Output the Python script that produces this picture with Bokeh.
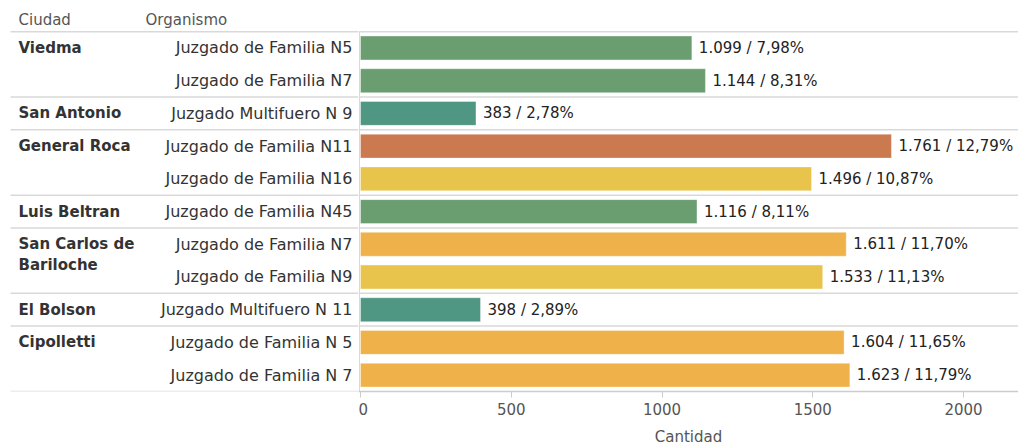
from bokeh.plotting import figure
from bokeh.layouts import row
from bokeh.models import Range1d, FixedTicker, ColumnDataSource
from bokeh.core.properties import value
from bokeh.embed import file_html
from bokeh.resources import INLINE

# ---- data ----
ciudad = ["Viedma", "Viedma", "San Antonio", "General Roca", "General Roca",
          "Luis Beltran", "San Carlos de\nBariloche", "San Carlos de\nBariloche",
          "El Bolson", "Cipolletti", "Cipolletti"]
organismo = ["Juzgado de Familia N5", "Juzgado de Familia N7", "Juzgado Multifuero N 9",
             "Juzgado de Familia N11", "Juzgado de Familia N16", "Juzgado de Familia N45",
             "Juzgado de Familia N7", "Juzgado de Familia N9", "Juzgado Multifuero N 11",
             "Juzgado de Familia N 5", "Juzgado de Familia N 7"]
cantidad = [1099, 1144, 383, 1761, 1496, 1116, 1611, 1533, 398, 1604, 1623]
porcentaje = [7.98, 8.31, 2.78, 12.79, 10.87, 8.11, 11.70, 11.13, 2.89, 11.65, 11.79]
colores = ["#6a9d6f", "#6a9d6f", "#4f9782", "#cb7a4f", "#e8c44c", "#6a9d6f",
           "#efb24b", "#e8c44c", "#4f9782", "#efb24b", "#efb24b"]
ticks = [0, 500, 1000, 1500, 2000]

FONT = "DejaVu Sans"
GRID = "#d9d9d9"
ROW_PX = 32.8
n = len(cantidad)
y_center = [i + 0.5 for i in range(n)]
header_rows = 23.2 / ROW_PX
yr = Range1d(start=n, end=-header_rows)

# group boundaries
bounds = [0]
for i in range(1, n):
    if ciudad[i] != ciudad[i - 1]:
        bounds.append(i)
bounds.append(n)

def fmt(v, p):
    return f"{v:,}".replace(",", ".") + " / " + f"{p:.2f}".replace(".", ",") + "%"

labels = [fmt(v, p) for v, p in zip(cantidad, porcentaje)]

W = 1018
H = 448
TOP = 8
BOTTOM = 56

# ---- left table ----
LW = 358
left = figure(width=LW, height=H, x_range=Range1d(0, LW), y_range=yr,
              output_backend="svg", toolbar_location=None,
              min_border_left=0, min_border_right=0, min_border_top=TOP,
              min_border_bottom=BOTTOM)
left.axis.visible = False
left.grid.visible = False
left.outline_line_color = None

left.segment(x0=[10] * len(bounds), x1=[LW] * len(bounds), y0=bounds, y1=bounds,
             line_color=GRID, line_width=1.5)

hy = -header_rows / 2
left.text(x=[18, 145], y=[hy, hy], text=["Ciudad", "Organismo"],
          text_font=value(FONT), text_font_size="15px", text_color="#555555",
          text_baseline="middle", text_align="left")

# city labels (first row of each group, wrapped lines)
cx, cy, ct = [], [], []
for b in bounds[:-1]:
    for k, line in enumerate(ciudad[b].split("\n")):
        cx.append(18)
        cy.append(b + 0.5 + k * 21 / ROW_PX)
        ct.append(line)
left.text(x=cx, y=cy, text=ct, text_font=value(FONT), text_font_size="15px",
          text_font_style="bold", text_color="#333333",
          text_baseline="middle", text_align="left")

left.text(x=[352] * n, y=y_center, text=organismo, text_font=value(FONT),
          text_font_size="16px", text_color="#333333",
          text_baseline="middle", text_align="right")

# ---- right bars ----
RW = W - LW
SCALE = 0.3015  # px per unit
x0 = -2 / SCALE
x1 = x0 + RW / SCALE
right = figure(width=RW, height=H, x_range=Range1d(x0, x1), y_range=yr,
               output_backend="svg", toolbar_location=None,
               min_border_left=0, min_border_right=0, min_border_top=TOP,
               min_border_bottom=BOTTOM)
right.yaxis.visible = False
right.grid.visible = False
right.outline_line_color = None

right.segment(x0=[x0] * (len(bounds) - 1), x1=[x1] * (len(bounds) - 1),
              y0=bounds[:-1], y1=bounds[:-1], line_color=GRID, line_width=1.5)
# vertical divider between table and bars (rows only, not header)
right.segment(x0=[x0 / 2], x1=[x0 / 2], y0=[0], y1=[n], line_color=GRID, line_width=1)

src = ColumnDataSource(dict(y=y_center, v=cantidad, c=colores, lab=labels))
right.hbar(y="y", right="v", left=0, height=0.73, fill_color="c",
           line_color="white", line_alpha=0.35, line_width=1, source=src)
right.text(x="v", y="y", text="lab", source=src, x_offset=7,
           text_font=value(FONT), text_font_size="15px", text_color="#222222",
           text_baseline="middle", text_align="left")

ax = right.xaxis[0]
ax.ticker = FixedTicker(ticks=ticks)
ax.minor_tick_line_color = None
ax.major_tick_in = 0
ax.major_tick_out = 6
ax.major_tick_line_color = "#cccccc"
ax.axis_line_color = "#cccccc"
ax.axis_line_width = 1.5
ax.major_label_text_font = FONT
ax.major_label_text_font_size = "15px"
ax.major_label_text_color = "#555555"
ax.axis_label = "Cantidad"
ax.axis_label_text_font = FONT
ax.axis_label_text_font_size = "15px"
ax.axis_label_text_font_style = "normal"
ax.axis_label_text_color = "#555555"
ax.axis_label_standoff = 10

layout = row(left, right)
open("out.html", "w").write(file_html(layout, INLINE))
